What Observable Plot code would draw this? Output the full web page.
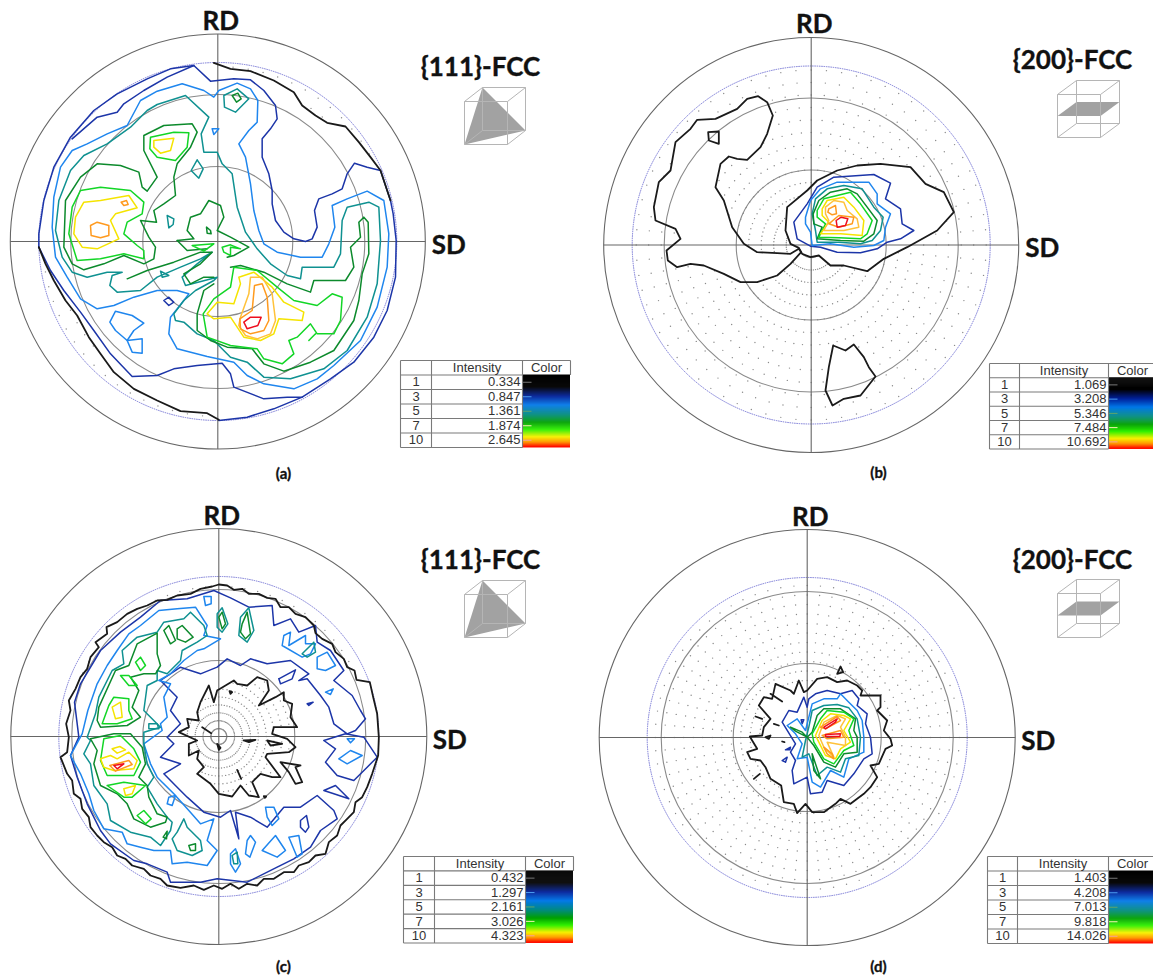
<!DOCTYPE html>
<html><head><meta charset="utf-8">
<style>html,body{margin:0;padding:0;background:#fff}svg{display:block}</style>
<script src="https://cdn.jsdelivr.net/npm/d3@7"></script>
<script src="https://cdn.jsdelivr.net/npm/@observablehq/plot@0.6"></script>
</head><body><div id="chart"></div>
<script>
// Contour levels and colours
const levels=[1,2,3,4,5,6,7,8,9,10];
const levelColors=["#1a1a1a","#1c35a8","#1f86ee","#0f9191","#0c8a2c","#12d626","#f5e400","#ffc23a","#ff9a1e","#ee0e1e"];

// Every contour: [level, closed(1)/open(0), x,y,x,y... read in crop units (1/3 px)]
const contoursA=[
[1,0,[640,187,690,205,750,212,820,240,880,275,905,315,945,345,980,367,1035,378,1075,425,1110,470,1140,510,1170,600]],
[1,0,[115,740,135,790,160,840,195,900,230,945,265,1010,300,1060,340,1115,400,1165,470,1200,540,1232,620,1238,655,1258]],
[2,0,[655,1260,740,1250,820,1225,905,1190,990,1135,1060,1085,1120,1010,1160,930,1185,830,1187,720,1178,640,1170,600,1140,510,1100,500,1062,488,1040,520,1025,565,995,580,955,595,942,630,950,680,935,715,915,723,880,715,850,695,825,660,815,610,815,570,805,520,785,470,785,415,810,385,830,355,825,315,790,270,750,238,700,235,630,242,580,195,510,205,440,235,350,280,280,330,210,410,160,500,130,600,115,700,115,740]],
[2,0,[215,415,290,350,350,335,370,310,430,270,500,230,580,195]],
[2,0,[115,740,150,810,190,870,240,935,280,990,330,1060,395,1128,470,1125,520,1105,590,1095,665,1088,690,1120,700,1160,790,1195,860,1190,905,1190]],
[2,1,[490,900,505,890,520,905,505,915]],
[3,1,[655,270,710,248,750,265,772,300,770,365,745,390,715,430,735,470,750,550,760,630,775,690,790,730,830,755,900,770,965,770,985,730,1003,680,995,615,1040,595,1100,572,1150,600,1165,700,1160,800,1130,920,1080,1020,1000,1095,950,1135,880,1165,790,1150,740,1125,700,1085,620,1068,530,1045,505,1000,510,950,550,900,565,880,530,870,470,870,400,890,340,915,290,925,240,895,200,830,165,770,155,680,160,590,180,500,215,450,260,430,320,400,380,375,420,300,470,272,545,250,610,270,640,290]],
[3,1,[345,932,395,945,430,968,400,990,380,1020,345,990,328,965]],
[3,1,[380,1020,425,1015,425,1058,395,1055]],
[3,1,[635,385,655,385,640,402]],
[4,1,[470,312,555,285,625,350,602,400,610,455,650,455,665,490,695,520,710,620,735,695,770,745,810,790,860,825,900,835,905,800,965,800,1000,800,1020,760,1025,660,1040,620,1105,605,1135,620,1140,720,1130,850,1100,950,1040,1050,970,1105,870,1135,790,1130,740,1085,690,1070,640,1020,590,1000,550,965,525,960,520,940,550,900,585,870,640,840,650,830,555,855,545,830,590,790,635,755,600,775,540,800,470,830,420,870,350,875,328,855,335,825,365,815,320,815,260,830,215,815,185,770,165,690,175,600,210,510,250,465,320,430,390,380,440,330]],
[4,1,[590,478,608,505,595,533,572,510]],
[4,1,[500,645,520,655,518,672,505,682]],
[4,1,[480,812,505,825,485,830]],
[4,1,[670,285,710,265,745,295,705,335,672,320]],
[5,1,[695,285,712,278,722,295,708,305]],
[5,1,[195,600,240,530,290,490,360,495,415,515,425,560,440,572,470,530,430,450,430,405,490,375,575,370,590,395,570,440,530,490,520,530,525,585,490,610,460,630,468,665,420,660,445,710,465,740,460,775,430,790,370,765,310,790,250,808,215,790,190,740]],
[5,0,[380,835,440,810,520,785,600,755,635,755,600,790,550,820,570,850,610,830,640,830]],
[5,0,[530,720,580,715,560,690,570,650,600,640,625,600,660,615,670,650,650,690,690,710,745,740,700,765,680,770]],
[5,0,[530,720,560,750,620,745]],
[5,0,[640,850,610,870,590,940,590,990,630,1020,680,1040,755,1045,790,1090,850,1112,930,1085,1000,1050,1060,960,1075,900,1085,820,1105,760,1103,665,1090,650,1075,665,1080,710,1050,740,1060,800,1035,840,940,840,930,875,860,850,790,815,720,795,690,800]],
[5,1,[618,680,630,690,632,700,620,698]],
[6,1,[215,620,240,570,300,560,390,570,430,605,425,640,380,665,370,700,410,735,430,750,430,775,370,760,300,775,230,780,205,700]],
[6,1,[450,410,520,395,565,397,560,440,525,480,470,470,448,445]],
[6,1,[700,800,770,810,830,860,880,900,950,915,995,880,1025,890,1020,960,1000,1000,950,1000,930,970,890,1010,865,1020,880,1060,845,1090,790,1075,770,1045,690,1035,620,1010,608,940,640,895,690,860]],
[6,0,[945,1000,925,1020]],
[6,1,[575,735,640,730,610,752]],
[6,1,[665,740,690,733,720,745,690,740,690,765,670,755]],
[7,1,[225,650,250,605,300,600,385,585,410,622,345,640,330,660,355,715,290,745,245,740,220,700]],
[7,1,[460,420,520,413,510,450,480,458,460,440]],
[7,1,[620,940,650,905,700,910,720,850,715,830,760,815,815,860,850,905,910,935,905,960,835,955,820,1000,780,1020,730,1010,690,950,640,955]],
[8,1,[720,950,745,880,750,830,785,830,815,880,825,960,810,1000,770,1015,735,1005,715,975]],
[9,1,[755,930,762,855,785,850,800,890,805,960,790,990,750,1000,720,985,718,955]],
[9,1,[270,675,290,665,325,675,325,705,300,712,272,705]],
[9,1,[362,605,378,600,383,612,370,615]],
[10,1,[730,965,750,950,782,950,772,975,740,985]]
];

const contoursB=[
[1,1,[503,287,530,305,547,345,530,400,510,440,470,478,440,475,415,468,390,490,375,560,400,600,425,680,460,730,500,755,560,758,600,760,625,745,632,755,600,790,560,825,500,845,450,845,400,820,340,795,300,790,260,800,232,780,228,750,270,715,255,685,195,660,190,620,205,545,240,510,255,425,300,385,320,358,375,355,440,325,470,295]],
[1,1,[353,395,385,393,385,430,355,420]],
[1,1,[625,742,600,730,585,690,590,620,650,570,680,540,740,510,800,495,870,490,960,500,1005,550,1060,575,1090,635,1040,690,950,740,880,775,830,812,760,795,720,795,685,765,660,770,635,760]],
[1,1,[728,1035,765,1050,790,1032,820,1070,835,1100,855,1128,810,1185,760,1195,726,1215,705,1170,715,1100]],
[2,1,[610,665,650,610,680,560,730,530,850,522,900,548,885,595,930,625,935,670,970,690,930,715,890,725,860,745,810,757,740,755,690,740,660,737,620,715]],
[3,1,[645,650,660,600,690,565,740,545,835,545,860,580,860,610,900,640,885,680,880,720,850,735,790,740,720,730,665,735,660,695,645,670]],
[4,1,[665,640,675,595,710,565,760,555,815,565,850,620,878,650,870,690,845,720,810,730,745,725,680,725,675,690]],
[5,1,[668,640,685,600,720,575,770,565,800,580,830,620,860,660,850,700,820,722,750,720,680,715,695,680,670,670]],
[6,1,[680,630,700,595,740,585,780,575,810,610,845,660,830,700,810,715,745,712,685,710,705,670,680,650]],
[7,1,[695,625,710,600,760,590,790,620,820,660,815,705,750,700,690,700,715,665,695,645]],
[8,1,[705,620,730,600,760,605,770,630,800,655,805,680,760,690,700,690,715,660,705,640]],
[9,1,[715,625,735,615,738,640,725,643,712,635]],
[9,1,[715,670,745,645,790,650,785,670,745,680]],
[10,1,[737,660,752,650,772,655,765,675,740,680]]
];

const contoursC=[
[1,1,[655,222,680,225,700,238,725,235,745,250,775,250,800,262,825,265,840,290,865,290,885,310,915,320,940,345,945,368,965,385,995,400,1005,425,1030,445,1040,470,1062,480,1068,508,1108,515,1118,560,1130,610,1135,680,1133,735,1115,790,1100,830,1085,860,1065,875,1060,905,1040,925,1020,945,1010,975,985,995,975,1030,945,1035,925,1055,895,1065,880,1085,850,1085,820,1105,790,1105,770,1125,740,1120,715,1135,690,1120,665,1135,640,1125,610,1138,580,1125,540,1132,500,1125,480,1105,450,1095,430,1075,395,1065,375,1045,350,1035,335,1010,310,995,290,975,270,950,265,920,245,895,240,865,220,850,215,810,200,790,180,740,200,725,205,680,197,640,210,600,205,570,225,535,240,500,260,475,270,440,295,410,285,395,320,370,318,350,350,335,380,310,410,295,440,285,470,270,500,268,530,255,570,250,600,235,635,228]],
[1,1,[650,540,700,510,710,520,740,525,770,500,800,510,805,540,775,585,825,560,850,545,850,570,875,580,870,620,890,650,820,650,815,670,860,685,885,710,865,725,800,730,795,740,840,800,815,800,780,790,755,815,775,860,745,855,720,825,695,858,655,850,630,820,590,790,610,770,590,745,595,720,565,735,565,700,590,690,535,665,565,650,560,625,595,630,590,605,600,575,625,525,640,575]],
[1,1,[840,755,900,765,885,770,905,815,885,820,865,785]],
[1,1,[800,690,845,700,810,705]],
[1,1,[730,690,765,688,745,695]],
[1,0,[710,778,722,805]],
[1,0,[605,650,632,668]],
[1,1,[650,700,660,712,655,718]],
[1,1,[687,542,695,545,690,550]],
[1,1,[790,857,797,858,793,862]],
[2,1,[640,240,690,262,745,290,815,285,820,345,870,325,895,365,945,345,950,395,990,420,1030,480,1000,510,1055,555,1080,600,1095,625,1065,660,1040,670,1000,640,985,590,960,555,920,505,895,510,925,490,870,450,800,460,750,445,720,465,680,445,650,470,600,490,540,470,480,510,530,560,510,600,540,640,500,680,520,700,480,740,540,760,490,790,530,830,560,860,610,905,660,920,690,900,715,985,705,905,750,920,800,950,850,890,900,890,950,855,1000,900,1010,925,960,960,930,1010,880,1045,830,1070,740,1115,650,1105,600,1115,510,1115,500,1085,440,1060,400,1050,330,1000,300,960,260,880,230,800,210,735,235,680,222,575,240,520,300,420,360,365,420,320,480,270,560,265]],
[2,1,[970,690,1035,670,1090,680,1130,740,1100,770,1060,810,1010,795,975,755,1005,715]],
[2,1,[970,840,1005,825,1045,865,1000,850]],
[2,1,[835,505,885,478,875,505,840,520]],
[2,1,[900,930,918,915,925,950,915,965,900,950]],
[2,1,[920,580,938,575,925,585]],
[3,1,[245,670,262,600,290,520,320,465,350,420,385,370,420,345,475,300,530,295,585,290,620,345,610,375,660,385,610,415,590,420,550,450,510,490,475,510,510,520,490,560,500,620,480,640,485,660,430,700,450,760,470,800,520,850,565,900,600,940,640,925,620,990,650,1020,620,1065,560,1055,515,1060,510,1020,460,1020,420,1010,380,1000,365,965,310,955,280,900,265,850,240,790,210,735]],
[3,1,[610,258,632,258,632,280,615,285]],
[3,1,[690,1030,705,1015,720,1060,705,1085,690,1060]],
[3,1,[740,990,750,975,765,995,748,1040,735,1030]],
[3,1,[785,1020,825,975,855,1020,830,1040]],
[3,1,[865,980,895,975,905,1030,890,1040]],
[3,1,[950,440,980,425,1005,465,975,480,950,475]],
[3,1,[850,375,870,365,865,405,915,375,915,400,945,400,930,430,905,440,845,405]],
[3,1,[795,890,820,890,835,925,815,945,800,920]],
[3,1,[505,860,525,855,515,885,500,880]],
[3,1,[1015,745,1050,720,1085,735,1040,760]],
[3,1,[975,545,998,535,990,552]],
[3,1,[1040,685,1062,685,1050,697]],
[4,1,[260,680,285,610,295,560,335,480,370,460,365,420,410,380,470,365,490,335,550,325,570,305,610,345,620,375,590,395,545,420,540,450,500,490,470,480,470,510,440,525,430,600,480,650,430,665,430,700,440,760,460,800,440,830,470,880,500,920,515,935,510,960,480,1005,450,980,390,965,330,930,320,880,280,825,270,760,250,730,270,690]],
[4,1,[905,430,940,395,945,425,920,440]],
[4,1,[530,965,550,925,560,950,600,990,605,1020,575,1035,530,1020,515,985]],
[4,1,[695,1035,710,1025,712,1060,700,1060]],
[4,1,[445,640,470,640,475,655,445,655]],
[4,1,[650,310,665,292,682,340,665,365,650,350]],
[4,1,[720,320,745,292,760,360,740,395,715,375]],
[5,1,[290,630,295,590,345,480,385,465,410,400,470,368,470,430,480,465,465,490,430,490,390,500,415,540,395,590,420,620,380,645,300,650]],
[5,1,[270,685,340,670,390,670,425,710,435,760,415,800,440,825,445,860,470,910,500,920,495,935,450,950,400,925,380,880,350,850,300,825,280,760,290,720]],
[5,1,[655,320,665,305,675,340,665,355]],
[5,1,[725,340,740,305,750,370,735,385,720,365]],
[5,1,[490,360,505,345,525,390,510,400]],
[5,1,[530,355,545,345,578,380,555,395,530,385]],
[5,1,[565,1005,585,1000,585,1020,570,1020]],
[5,1,[488,980,500,962,498,985]],
[6,1,[305,640,325,585,340,560,385,565,385,600,395,625,350,640]],
[6,1,[310,685,360,675,400,715,420,755,400,795,320,795,300,750]],
[6,1,[320,825,370,815,435,825,395,860,370,860]],
[6,1,[410,915,430,900,452,925,435,940]],
[6,1,[405,455,420,440,435,465,420,480]],
[6,1,[360,495,385,495,410,525,385,525]],
[7,1,[335,590,360,575,365,620,345,625]],
[7,1,[300,745,330,735,350,745,385,725,410,750,400,775,340,780,310,770]],
[7,1,[335,715,358,708,375,718,350,728]],
[7,1,[370,835,405,825,395,850,375,855]],
[9,1,[328,765,385,750,395,762,345,782]],
[10,1,[340,765,370,760,350,775]]
];

const contoursD=[
[1,1,[470,130,480,108,488,125]],
[1,1,[380,180,410,145,440,140,470,155,500,150,530,165,545,180,540,195,600,195,600,230,590,240,620,270,610,300,630,325,635,345,615,355,595,400,570,405,590,440,570,470,550,490,510,520,480,505,465,520,430,545,395,545,375,520,350,548,340,520,310,515,302,465,270,445,255,410,240,390,210,385,200,365,230,355,215,330,208,318,245,315,250,290,270,265,235,225,250,200,275,205,285,160,330,180,340,190,355,150,370,185]],
[1,0,[270,190,305,213]],
[1,0,[225,258,245,265]],
[1,0,[280,280,295,285]],
[1,1,[255,320,270,315,265,325]],
[1,0,[305,333,312,335]],
[1,0,[220,445,238,430]],
[2,1,[385,205,405,190,440,180,480,190,515,180,535,205,530,225,560,250,555,280,570,320,575,370,550,385,520,430,490,465,440,450,425,485,390,490,380,440,340,460,335,420,345,390,330,365,345,340,305,275,325,240,350,245,370,200,380,230]],
[2,1,[315,358,330,350,328,358]],
[2,1,[305,390,320,380,315,395]],
[2,1,[362,268,370,268,365,280]],
[3,1,[385,260,395,220,430,205,470,205,480,190,505,215,530,240,545,270,550,320,550,365,505,385,490,440,450,420,420,470,395,455,380,380,350,385,365,340,345,310,320,285,350,265,375,300]],
[4,1,[385,290,395,240,430,225,470,222,505,232,530,265,540,320,535,375,495,385,480,425,440,410,410,435,385,370,365,380,375,330,380,310]],
[5,1,[395,305,410,255,430,235,480,235,525,265,520,300,530,320,530,365,490,370,465,410,430,395,400,345,380,320]],
[5,1,[330,290,365,305,380,320,345,302]],
[5,1,[395,370,420,445,400,420]],
[6,1,[395,310,420,265,440,240,490,245,520,265,505,300,520,345,490,360,460,400,430,385,400,335]],
[7,1,[405,315,425,270,450,250,490,255,510,265,490,300,510,335,480,355,465,385,435,375,415,335]],
[8,1,[415,315,430,275,470,255,495,265,480,290,495,320,495,345,440,335,460,380,430,350]],
[9,1,[420,290,470,258,480,270,435,295]],
[9,1,[425,315,480,300,490,320,440,325]],
[9,1,[430,350,455,370,460,385,440,370]],
[10,1,[430,290,470,265,465,275,435,295]],
[10,1,[435,312,480,310,478,318,435,318]]
];

// Regions (same crop units) where the sampling grid is hidden or shown
const gridHideA=[640,187,690,205,750,212,820,240,880,275,905,315,945,345,980,367,1035,378,1075,425,1110,470,1140,510,1170,600,1187,720,1185,830,1160,930,1120,1010,1060,1085,990,1135,905,1190,820,1225,740,1250,655,1258,620,1238,540,1232,470,1200,400,1165,340,1115,300,1060,265,1010,230,945,195,900,160,840,135,790,115,740,115,700,130,600,160,500,210,410,280,330,350,280,440,235,510,205];

const sourceNames=["a","b","c","d"];
const crops={a:[0,0],b:[590,0],c:[0,510],d:[680,630]};
const contours={a:contoursA,b:contoursB,c:contoursC,d:contoursD};
const unit=3;
const figures=[
 {id:"a",cx:217.3,cy:241,R:207.5,blue:179,rings:[147,75],step:12.5,title:"{111}-FCC",caption:"(a)",tx:480,ty:67,capx:283,capy:474},
 {id:"b",cx:810.7,cy:244.5,R:207.5,blue:179,rings:[147,75],step:12.5,title:"{200}-FCC",caption:"(b)",tx:1072,ty:60,capx:878,capy:473},
 {id:"c",cx:218.3,cy:736,R:208,blue:160,rings:[147,76],step:7.9,title:"{111}-FCC",caption:"(c)",tx:480,ty:560,capx:283,capy:967},
 {id:"d",cx:806.7,cy:737,R:208,blue:160,rings:[146,74],step:9.5,title:"{200}-FCC",caption:"(d)",tx:1072,ty:560,capx:878,capy:967}
];

// Legend tables
const rowIds=["1","3","5","7","10"];
const intensities={a:["0.334","0.847","1.361","1.874","2.645"],b:["1.069","3.208","5.346","7.484","10.692"],c:["0.432","1.297","2.161","3.026","4.323"],d:["1.403","4.208","7.013","9.818","14.026"]};
const tableFrames=[
 {id:"a",x:[400,431,522,570],y0:360,y1:447},
 {id:"b",x:[989,1019,1108,1156],y0:363,y1:448.5},
 {id:"c",x:[403,434,525,573],y0:856,y1:942.5},
 {id:"d",x:[987,1017,1108,1156],y0:856,y1:943}
];
const tickColors=["#777","#4a9cf0","#5fa56a","#f6f3b0","#f5a0a0"];
const barStops=[0,.17,.3,.42,.55,.66,.76,.86,.93,1];
const barColors=["#000","#000","#00209a","#0078e8","#008a80","#00a000","#30f000","#f8f000","#ff9800","#ff0000"];

// Cube icons
const cubes=[
 {id:"a",x0:464,x1:507,y0:101,y1:144,dx:18,dy:-14,kind:"111"},
 {id:"b",x0:1057,x1:1100,y0:94,y1:137,dx:19,dy:-14,kind:"200"},
 {id:"c",x0:464,x1:507,y0:594,y1:637,dx:18,dy:-14,kind:"111"},
 {id:"d",x0:1057,x1:1100,y0:593,y1:637,dx:19,dy:-14,kind:"200"}
];

// ---- build ----
const toPts=(flat,id)=>{const [ox,oy]=crops[id];const out=[];for(let i=0;i<flat.length;i+=2)out.push([ox+flat[i]/unit,oy+flat[i+1]/unit]);return out;};
let lines=[];let n=0;
for(const id of sourceNames){for(const [level,closed,flat] of contours[id]){const p=toPts(flat,id);if(closed)p.push(p[0]);n++;p.forEach(q=>lines.push({x:q[0],y:q[1],level,key:n}));}}

const blackPolys=id=>contours[id].filter(c=>c[0]===1&&c[1]===1&&c[2].length>8).map(c=>toPts(c[2],id));
const maskA=[toPts(gridHideA,"a")];
const visible={
 a:p=>!maskA.some(m=>d3.polygonContains(m,p)),
 b:p=>!blackPolys("b").some(m=>d3.polygonContains(m,p)),
 c:p=>{const [outer,inner]=blackPolys("c");return !d3.polygonContains(outer,p)||d3.polygonContains(inner,p);},
 d:p=>!blackPolys("d").some(m=>d3.polygonContains(m,p))
};
let gridDots=[];
for(const f of figures){
 const vis=visible[f.id];
 for(let k=1;k*f.step<f.blue-2;k++){const r=k*f.step;
  for(let a=0;a<72;a++){const t=a*5*Math.PI/180;const p=[f.cx+r*Math.cos(t),f.cy+r*Math.sin(t)];
   if(vis(p))gridDots.push({x:p[0],y:p[1]});}}
}
const ringData=figures.flatMap(f=>f.rings.map(r=>({x:f.cx,y:f.cy,r})));

const rules=[],tcells=[],strips=[],ticks=[];
const barColor=d3.scaleLinear().domain(barStops).range(barColors);
for(const t of tableFrames){
 const rowH=(t.y1-t.y0)/6;
 for(let i=0;i<=6;i++)rules.push({x1:t.x[0],x2:i===0?t.x[3]:t.x[2],y1:t.y0+i*rowH,y2:t.y0+i*rowH});
 t.x.slice(0,3).forEach(x=>rules.push({x1:x,x2:x,y1:t.y0,y2:t.y1}));
 rules.push({x1:t.x[3],x2:t.x[3],y1:t.y0,y2:t.y0+rowH});
 tcells.push({x:(t.x[1]+t.x[2])/2,y:t.y0+rowH/2,s:"Intensity",a:"middle"});
 tcells.push({x:(t.x[2]+t.x[3])/2,y:t.y0+rowH/2,s:"Color",a:"middle"});
 rowIds.forEach((s,i)=>{const y=t.y0+(i+1.5)*rowH;
  tcells.push({x:(t.x[0]+t.x[1])/2,y,s,a:"middle"});
  tcells.push({x:t.x[2]-2,y,s:intensities[t.id][i],a:"end"});
 });
 const N=73,h=(t.y1-t.y0-rowH)/N;
 for(let i=0;i<N;i++)strips.push({x1:t.x[2],x2:t.x[3],y1:t.y0+rowH+i*h,y2:t.y0+rowH+(i+1)*h+.5,c:barColor((i+.5)/N)});
 [0.5,1.5,2.5,3.5,4.5].forEach((k,i)=>ticks.push({x1:t.x[2],x2:t.x[2]+9,y1:t.y0+rowH+k*rowH,y2:t.y0+rowH+k*rowH,c:tickColors[i]}));
}

const cubeEdges=[],cubeFaces=[];
cubes.forEach((c,ci)=>{
 const {x0,x1,y0,y1,dx,dy}=c;
 const f=[[x0,y0],[x1,y0],[x1,y1],[x0,y1]],b=f.map(p=>[p[0]+dx,p[1]+dy]);
 for(let i=0;i<4;i++){const j=(i+1)%4;
  cubeEdges.push({x1:f[i][0],y1:f[i][1],x2:f[j][0],y2:f[j][1]});
  cubeEdges.push({x1:b[i][0],y1:b[i][1],x2:b[j][0],y2:b[j][1]});
  cubeEdges.push({x1:f[i][0],y1:f[i][1],x2:b[i][0],y2:b[i][1]});
 }
 const my=(y0+y1)/2;
 const face=c.kind==="111"?[b[0],b[2],f[3]]:[[x0,my],[x1,my],[x1+dx,my+dy],[x0+dx,my+dy]];
 face.forEach(p=>cubeFaces.push({x:p[0],y:p[1],key:ci}));
});

const axes=figures.flatMap(f=>[{x1:f.cx-f.R,x2:f.cx+f.R,y1:f.cy,y2:f.cy},{x1:f.cx,x2:f.cx,y1:f.cy-f.R,y2:f.cy+f.R}]);
const labelFont='Lato, "Open Sans", sans-serif';
const bold=figures.flatMap(f=>[{x:f.cx+3,y:f.cy-220,s:"RD",z:26},{x:f.cx+231,y:f.cy+4,s:"SD",z:26},{x:f.tx,y:f.ty,s:f.title,z:26},{x:f.capx,y:f.capy,s:f.caption,z:15}]);
const tableFont='"Liberation Sans",Arial,sans-serif';

const chart=Plot.plot({
 width:1153,height:976,margin:0,
 x:{domain:[0,1153],axis:null},y:{domain:[976,0],axis:null},
 r:{type:"identity"},
 color:{type:"ordinal",domain:levels,range:levelColors},
 style:{background:"#fff"},
 marks:[
  Plot.dot(gridDots,{x:"x",y:"y",r:.7,fill:"#8a8a8a",stroke:"none"}),
  Plot.dot(figures,{x:"cx",y:"cy",r:"R",fill:"none",stroke:"#666",strokeWidth:1.1}),
  Plot.dot(figures,{x:"cx",y:"cy",r:"blue",fill:"none",stroke:"#6a6ad0",strokeWidth:.9,strokeDasharray:"1.5 0.8"}),
  Plot.dot(ringData,{x:"x",y:"y",r:"r",fill:"none",stroke:"#8a8a8a",strokeWidth:1.1}),
  Plot.link(axes,{x1:"x1",x2:"x2",y1:"y1",y2:"y2",stroke:"#666",strokeWidth:1.1}),
  Plot.line(lines.filter(d=>d.level>1),{x:"x",y:"y",z:"key",stroke:"level",strokeWidth:1.5,curve:"linear"}),
  Plot.line(lines.filter(d=>d.level===1),{x:"x",y:"y",z:"key",stroke:"level",strokeWidth:1.8,curve:"linear"}),
  Plot.line(cubeFaces,{x:"x",y:"y",z:"key",fill:"#a2a2a2",stroke:"none"}),
  Plot.link(cubeEdges,{x1:"x1",y1:"y1",x2:"x2",y2:"y2",stroke:"#b5b5b5",strokeWidth:1}),
  Plot.rect(strips,{x1:"x1",x2:"x2",y1:"y1",y2:"y2",fill:{value:d=>d.c,scale:null}}),
  Plot.link(ticks,{x1:"x1",x2:"x2",y1:"y1",y2:"y2",stroke:{value:d=>d.c,scale:null},strokeWidth:1}),
  Plot.link(rules,{x1:"x1",x2:"x2",y1:"y1",y2:"y2",stroke:"#7a7a7a",strokeWidth:1.1}),
  Plot.text(tcells.filter(d=>d.a==="middle"),{x:"x",y:"y",text:"s",textAnchor:"middle",fontFamily:tableFont,fontSize:13,fill:"#333"}),
  Plot.text(tcells.filter(d=>d.a==="end"),{x:"x",y:"y",text:"s",textAnchor:"end",fontFamily:tableFont,fontSize:13,fill:"#333"}),
  Plot.text(bold,{x:"x",y:"y",text:"s",fontSize:"z",fontFamily:labelFont,fontWeight:700,fill:"#111",stroke:"#111",strokeWidth:.35})
 ]
});
document.getElementById("chart").append(chart);
</script></body></html>
